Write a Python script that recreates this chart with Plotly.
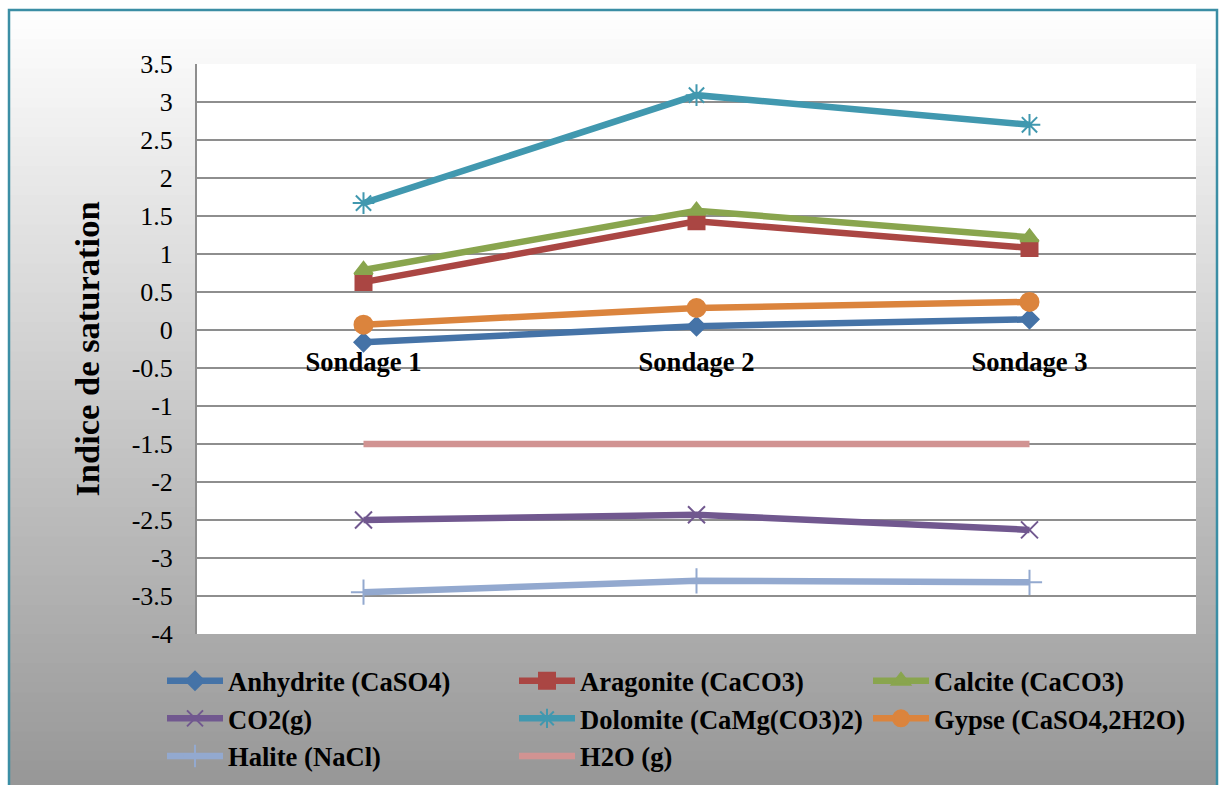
import plotly.graph_objects as go

categories = ["Sondage 1", "Sondage 2", "Sondage 3"]
anhydrite = [-0.16, 0.05, 0.14]
aragonite = [0.63, 1.43, 1.08]
calcite = [0.79, 1.57, 1.22]
co2 = [-2.50, -2.43, -2.63]
dolomite = [1.67, 3.09, 2.70]
gypse = [0.07, 0.29, 0.37]
halite = [-3.45, -3.30, -3.32]
h2o = [-1.50, -1.50, -1.50]
y_ticks = [3.5, 3, 2.5, 2, 1.5, 1, 0.5, 0, -0.5, -1, -1.5, -2, -2.5, -3, -3.5, -4]

W, H = 1225, 785
L, R, T, B = 197, 1196, 64, 634
FONT = "Liberation Serif"

series = [
    ("Anhydrite (CaSO4)", anhydrite, "#4573a7", "diamond", 14, "legend"),
    ("Aragonite (CaCO3)", aragonite, "#aa4643", "square", 16, "legend2"),
    ("Calcite (CaCO3)", calcite, "#89a54e", "triangle-up", 16, "legend3"),
    ("CO2(g)", co2, "#71588f", "x-thin-open", 17, "legend"),
    ("Dolomite (CaMg(CO3)2)", dolomite, "#4198af", "asterisk-open", 18, "legend2"),
    ("Gypse (CaSO4,2H2O)", gypse, "#db843d", "circle", 18, "legend3"),
    ("Halite (NaCl)", halite, "#93a9cf", "cross-thin-open", 18, "legend"),
    ("H2O (g)", h2o, "#d19392", None, 0, "legend2"),
]

fig = go.Figure()
for i, (name, vals, color, sym, size, lg) in enumerate(series):
    if sym is None:
        fig.add_trace(go.Scatter(x=categories, y=vals, name=name, mode="lines",
                                 line=dict(color=color, width=6.5), legend=lg,
                                 legendgroup=name))
    else:
        fig.add_trace(go.Scatter(x=categories, y=vals, name=name, mode="lines+markers",
                                 line=dict(color=color, width=6.5),
                                 marker=dict(symbol=sym, size=size, color=color,
                                             line=dict(color=color, width=2)),
                                 legend=lg, legendgroup=name))

def px2x(px):
    return (px - L) / (R - L)

def py2y(py):
    return (B - py) / (B - T)

shapes = []
top_px, bot_px = 10, 790
n = 80
c0, c1 = 255, 150
for k in range(n):
    y0 = top_px + (bot_px - top_px) * k / n
    y1 = top_px + (bot_px - top_px) * (k + 1) / n + 1
    c = round(c0 + (c1 - c0) * (k + 0.5) / n)
    col = f"rgb({c},{c},{c})"
    shapes.append(dict(type="rect", xref="paper", yref="paper", layer="below",
                       x0=px2x(9), x1=px2x(1217), y0=py2y(y1), y1=py2y(y0),
                       fillcolor=col, line=dict(width=0)))
shapes.append(dict(type="rect", xref="paper", yref="paper", layer="below",
                   x0=0, x1=1, y0=0, y1=1, fillcolor="white", line=dict(width=0)))
shapes.append(dict(type="rect", xref="paper", yref="paper", layer="below",
                   x0=px2x(9), x1=px2x(1217), y0=py2y(800), y1=py2y(10),
                   fillcolor="rgba(0,0,0,0)", line=dict(color="#3b8ea5", width=2.5)))

leg_common = dict(orientation="v", xanchor="left", yanchor="top",
                  bgcolor="rgba(0,0,0,0)",
                  font=dict(family=FONT, size=26.6, color="black", weight="bold"),
                  itemwidth=56, tracegroupgap=0, borderwidth=0)
leg_top = 657
fig.update_layout(
    width=W, height=H,
    margin=dict(l=L, r=W - R, t=T, b=H - B, pad=0, autoexpand=False),
    paper_bgcolor="white",
    plot_bgcolor="rgba(0,0,0,0)",
    shapes=shapes,
    showlegend=True,
    legend=dict(x=px2x(162), y=py2y(leg_top), **leg_common),
    legend2=dict(x=px2x(514), y=py2y(leg_top), **leg_common),
    legend3=dict(x=px2x(868), y=py2y(leg_top), **leg_common),
    xaxis=dict(type="category", range=[-0.5, 2.5], anchor="free",
               position=(0 - (-4)) / 7.5, showgrid=False, zeroline=False,
               showline=False, ticks="", ticklabelstandoff=13,
               tickfont=dict(family=FONT, size=26.6, color="black", weight="bold")),
    yaxis=dict(range=[-4, 3.5], tickvals=y_ticks,
               ticktext=[f"{v:g}" for v in y_ticks],
               showgrid=True, gridcolor="#8e8e8e", gridwidth=2,
               zeroline=False, showline=True, linecolor="#8e8e8e", linewidth=2,
               ticks="", ticklabelstandoff=17,
               tickfont=dict(family=FONT, size=26, color="black"),
               title=dict(text="Indice de saturation\u00a0\u00a0\u00a0", standoff=22,
                          font=dict(family=FONT, size=34.5, color="black", weight="bold"))),
)

fig.write_html("out.html")
